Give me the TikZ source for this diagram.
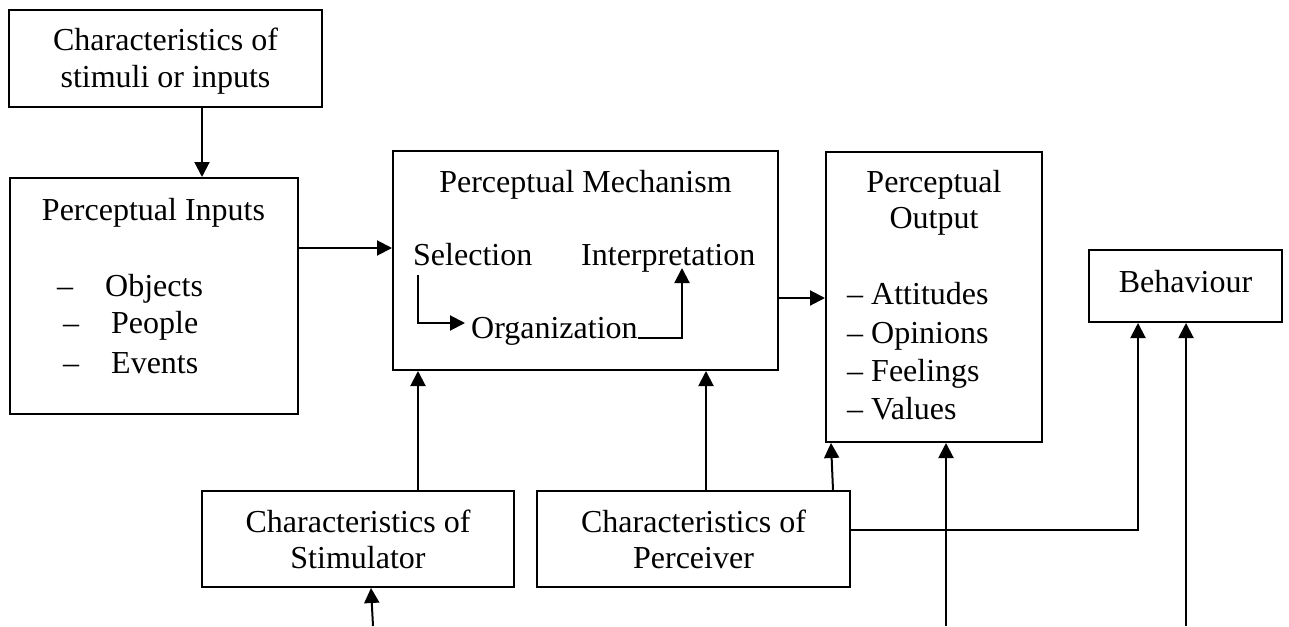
\documentclass[tikz,border=0pt]{standalone}
\usepackage{fontspec}
\setmainfont{Liberation Serif}
\usetikzlibrary{arrows.meta}
\begin{document}
\begin{tikzpicture}[x=1pt,y=-1pt,
  box/.style={draw,line width=2pt,inner sep=0pt},
  txt/.style={inner sep=0pt,font=\fontsize{32}{36}\selectfont,align=center},
  arr/.style={line width=2pt,-{Triangle[length=15pt,width=15pt]}}]
\useasboundingbox (0,0) rectangle (1289,626);

% boxes
\node[box,minimum width=313pt,minimum height=97pt]  (stim)   at (165.5,58.5) {};
\node[box,minimum width=288pt,minimum height=236pt] (inputs) at (154,296) {};
\node[box,minimum width=385pt,minimum height=219pt] (mech)   at (585.5,260.5) {};
\node[box,minimum width=216pt,minimum height=290pt] (out)    at (934,297) {};
\node[box,minimum width=193pt,minimum height=72pt]  (beh)    at (1185.5,286) {};
\node[box,minimum width=312pt,minimum height=96pt]  (stor)   at (358,539) {};
\node[box,minimum width=313pt,minimum height=96pt]  (perc)   at (693.5,539) {};

% texts (two-line texts sit on the baseline of their last line)
\node[txt,anchor=base] (stimT) at (165.5,87) {Characteristics of\\stimuli or inputs};
\node[txt,anchor=base] (inT) at (153.5,220) {Perceptual Inputs};
\node[txt,anchor=base west] (in1) at (57,296) {–\hspace{32pt}Objects};
\node[txt,anchor=base west] (in2) at (63,333) {–\hspace{32pt}People};
\node[txt,anchor=base west] (in3) at (63,373) {–\hspace{32pt}Events};

\node[txt,anchor=base] (mechT) at (585.5,192) {Perceptual Mechanism};
\node[txt,anchor=base west] (sel) at (413,265) {Selection};
\node[txt,anchor=base west] (interp) at (581,265) {Interpretation};
\node[txt,anchor=base west] (org) at (471,338) {Organization};

\node[txt,anchor=base] (outT) at (934,228) {Perceptual\\Output};
\node[txt,anchor=base west] (o1) at (847,304) {– Attitudes};
\node[txt,anchor=base west] (o2) at (847,343) {– Opinions};
\node[txt,anchor=base west] (o3) at (847,381) {– Feelings};
\node[txt,anchor=base west] (o4) at (847,419) {– Values};

\node[txt,anchor=base] (behT) at (1185.5,292) {Behaviour};
\node[txt,anchor=base] (storT) at (358,568) {Characteristics of\\Stimulator};
\node[txt,anchor=base] (percT) at (693.5,568) {Characteristics of\\Perceiver};

% guide coordinates for connector positions
\coordinate (x202) at (202,0);
\coordinate (y248) at (0,248);
\coordinate (y298) at (0,298);
\coordinate (x418) at (418,0);
\coordinate (x706) at (706,0);
\coordinate (x833) at (833,0);
\coordinate (x831) at (831,0);
\coordinate (y530) at (0,530);
\coordinate (x1138) at (1138,0);
\coordinate (b946) at (946,626);
\coordinate (b1186) at (1186,626);
\coordinate (b373) at (373,626);
\coordinate (x371) at (371,0);

% connectors
\draw[arr] (stim.south -| x202) -- (inputs.north -| x202);
\draw[arr] (inputs.east |- y248) -- (mech.west |- y248);
\draw[arr] (mech.east |- y298) -- (out.west |- y298);
\draw[arr] (stor.north -| x418) -- (mech.south -| x418);
\draw[arr] (perc.north -| x706) -- (mech.south -| x706);
\draw[arr] (perc.north -| x833) -- (out.south -| x831);
\draw[arr] (perc.east |- y530) -| (beh.south -| x1138);
\draw[arr] (b946) -- (out.south -| b946);
\draw[arr] (b1186) -- (beh.south -| b1186);
\draw[arr] (b373) -- (stor.south -| x371);

% flow inside the mechanism
\draw[arr] ([xshift=5pt,yshift=-10pt]sel.base west) |- ([xshift=-6pt,yshift=15pt]org.base west);
\draw[arr] (org.base east) -| ([xshift=101pt,yshift=-3pt]interp.base west);
\end{tikzpicture}
\end{document}
